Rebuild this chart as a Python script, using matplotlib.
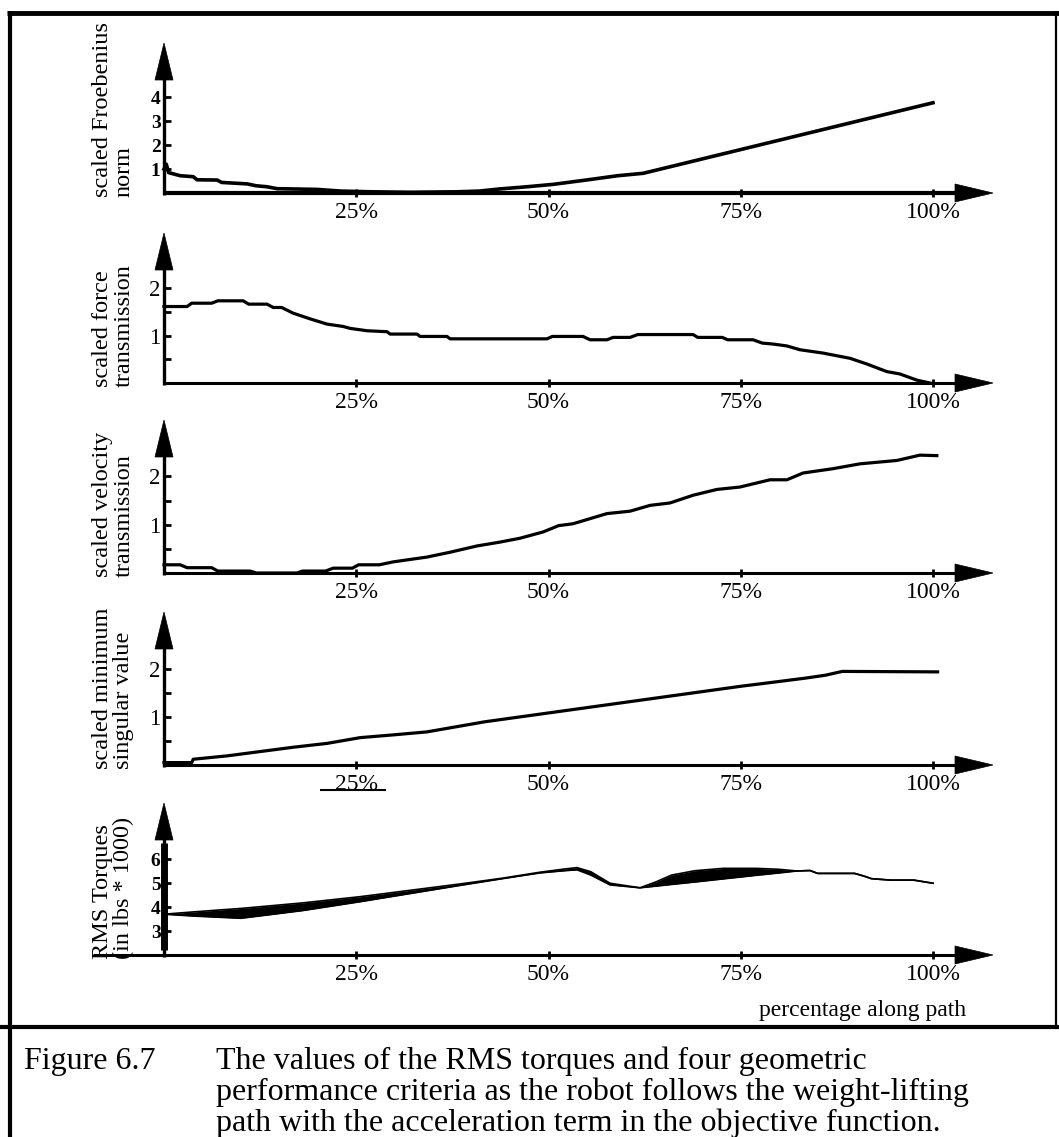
import matplotlib
matplotlib.use("Agg")
import matplotlib.pyplot as plt
from matplotlib.lines import Line2D
from matplotlib.patches import Polygon

plt.rcParams['font.family'] = ['Liberation Serif', 'DejaVu Serif']

# ---------------- data ----------------
x_ticks = [25, 50, 75, 100]
x_tick_labels = ['25%', '50%', '75%', '100%']

froeb_pct = [0, 0.3, 0.6, 2.1, 3.8, 4.3, 6.9, 7.5, 10.8, 12, 13.4, 14.7, 19.9, 23, 27, 32,
             38, 41, 43.7, 47.2, 50.6, 54.9, 59, 62.3, 100]
froeb_val = [1.0, 1.2, 0.85, 0.72, 0.68, 0.55, 0.54, 0.44, 0.38, 0.30, 0.26, 0.18, 0.15, 0.08,
             0.05, 0.03, 0.05, 0.08, 0.17, 0.26, 0.36, 0.54, 0.72, 0.82, 3.76]

force_pct = [0, 3, 3.6, 6.2, 7, 10.3, 11, 13.4, 14.2, 15.3, 16.8, 19, 21.2, 23.3, 24.2, 26.4,
             29, 29.4, 32.9, 33.3, 36.8, 37.2, 49.8, 50.5, 54.5, 55.4, 57.6, 58.4, 60.6, 61.6,
             68.8, 69.4, 72.6, 73.3, 76.6, 77.8, 79.2, 81, 82.7, 85.7, 89.2, 91.4, 94, 95.7,
             97.9, 99.6]
force_val = [1.61, 1.61, 1.68, 1.68, 1.73, 1.73, 1.66, 1.66, 1.59, 1.59, 1.47, 1.35, 1.24,
             1.19, 1.15, 1.10, 1.08, 1.03, 1.03, 0.98, 0.98, 0.93, 0.93, 0.98, 0.98, 0.91,
             0.91, 0.96, 0.96, 1.02, 1.02, 0.96, 0.96, 0.91, 0.91, 0.84, 0.82, 0.78, 0.70,
             0.63, 0.52, 0.40, 0.24, 0.19, 0.06, 0.0]

vel_pct = [0, 2.1, 3, 6.2, 7, 11.2, 12, 17.3, 18, 21, 22, 24.5, 25.3, 28, 29.8, 32, 34.2,
           37.2, 40.7, 43.7, 46.3, 49.3, 51.3, 53.2, 57.6, 60.6, 63.2, 65.8, 68.8, 71.9,
           74.9, 78.8, 81, 83.1, 87, 90.5, 95.3, 98.3, 100.5]
vel_val = [0.17, 0.17, 0.11, 0.11, 0.04, 0.04, 0.0, 0.0, 0.04, 0.04, 0.10, 0.10, 0.17, 0.17,
           0.23, 0.28, 0.33, 0.43, 0.56, 0.64, 0.72, 0.85, 0.98, 1.02, 1.23, 1.28, 1.40,
           1.45, 1.61, 1.73, 1.78, 1.93, 1.93, 2.07, 2.16, 2.26, 2.33, 2.44, 2.43]

sing_pct = [0, 3.6, 3.8, 8.2, 12.5, 16.8, 21.2, 25.5, 30, 34.2, 41.7, 71.4, 75, 79, 83.4,
            86, 88.2, 100.6]
sing_val = [0.05, 0.05, 0.12, 0.19, 0.28, 0.37, 0.45, 0.57, 0.63, 0.69, 0.90, 1.56, 1.64,
            1.72, 1.81, 1.87, 1.95, 1.94]

rms_pct = [0, 4, 10, 18, 25.5, 38.5, 44, 48.9, 52, 53.7, 55.5, 58, 61.9, 64, 66, 69, 72.7,
           77, 80, 82.3, 84, 85, 89.8, 91, 92, 94.5, 97.5, 100]
rms_upper = [3.70, 3.80, 3.94, 4.17, 4.43, 4.96, 5.20, 5.45, 5.58, 5.64, 5.47, 4.99, 4.80,
             5.05, 5.33, 5.51, 5.61, 5.61, 5.57, 5.50, 5.52, 5.40, 5.40, 5.29, 5.18, 5.12,
             5.12, 4.99]
rms_lower = [3.70, 3.62, 3.53, 3.85, 4.22, 4.90, 5.18, 5.42, 5.51, 5.55, 5.33, 4.92, 4.80,
             4.87, 4.94, 5.04, 5.17, 5.32, 5.42, 5.50, 5.52, 5.40, 5.40, 5.29, 5.18, 5.12,
             5.12, 4.99]

ylabels = ["scaled Froebenius\nnorm",
           "scaled force\ntransmission",
           "scaled velocity\ntransmission",
           "scaled minimum\nsingular value",
           "RMS Torques\n(in lbs * 1000)"]
y_ticks = [[1, 2, 3, 4], [0.5, 1, 1.5, 2], [0.5, 1, 1.5, 2], [0.5, 1, 1.5, 2], [3, 4, 5, 6]]
y_tick_labels = [['1', '2', '3', '4'], ['', '1', '', '2'], ['', '1', '', '2'],
                 ['', '1', '', '2'], ['3', '4', '5', '6']]
xlabel_text = "percentage along path"
caption_label = "Figure 6.7"
caption_lines = ["The values of the RMS torques and four geometric",
                 "performance criteria as the robot follows the weight-lifting",
                 "path with the acceleration term in the objective function."]

# ---------------- layout (pixels) ----------------
W, H = 1059, 1137
fig = plt.figure(figsize=(W / 100, H / 100), dpi=100)
fig.patch.set_facecolor('white')


def fx(x):
    return x / W


def fy(y):
    return 1 - y / H


def fline(xs, ys, lw, **kw):
    fig.add_artist(Line2D([fx(v) for v in xs], [fy(v) for v in ys], transform=fig.transFigure,
                          color='black', lw=lw, solid_capstyle='butt', **kw))


def fpoly(pts):
    fig.add_artist(Polygon([(fx(a), fy(b)) for a, b in pts], closed=True,
                           transform=fig.transFigure, facecolor='black',
                           edgecolor='black', lw=0.5))


X0, X100, XR = 164, 933, 1000
PXPCT = (X100 - X0) / 100.0

# axis_y, tip_y, px per unit, ymin, y-tick fontsize, x-axis start px
panels = [
    (193, 43, 24.0, 0.0, 14, X0),
    (383, 233, 47.5, 0.0, 16.5, X0),
    (573, 420, 48.3, 0.0, 16.5, X0),
    (765, 612, 48.0, 0.0, 16.5, X0),
    (955, 803, 24.0, 2.0, 14, 93),
]

series = [
    (froeb_pct, froeb_val),
    (force_pct, force_val),
    (vel_pct, vel_val),
    (sing_pct, sing_val),
    None,
]

for i, (ay, ty, unit, ymin, ytfs, xstart) in enumerate(panels):
    ax = fig.add_axes([fx(X0), fy(ay), (XR - X0) / W, (ay - ty) / H])
    ax.set_xlim(0, (XR - X0) / PXPCT)
    ax.set_ylim(ymin, ymin + (ay - ty) / unit)
    ax.patch.set_visible(False)
    for s in ax.spines.values():
        s.set_visible(False)
    ax.set_xticks(x_ticks, labels=x_tick_labels)
    ax.tick_params(axis='x', direction='inout', length=6, width=2.0, pad=3.5,
                   labelsize=17)
    ax.set_yticks(y_ticks[i], labels=y_tick_labels[i])
    ax.tick_params(axis='y', direction='in', length=5, width=2.0, pad=2.5,
                   labelsize=ytfs)
    if i in (0, 4):
        for lab in ax.get_yticklabels():
            lab.set_fontweight('bold')

    if series[i] is not None:
        px, pv = series[i]
        lw = 2.6 if i == 0 else 2.3
        ax.plot(px, pv, color='black', lw=lw, clip_on=False, solid_joinstyle='round')
    else:
        ax.fill_between(rms_pct, rms_lower, rms_upper, color='black', lw=0)
        ax.plot(rms_pct, rms_upper, color='black', lw=1.2, clip_on=False)
        ax.plot(rms_pct, rms_lower, color='black', lw=1.2, clip_on=False)

    # x axis with arrow
    axis_lw = 3.0 if i == 0 else 2.2
    fline([xstart, 958], [ay, ay], axis_lw)
    fpoly([(955, ay - 9), (993, ay), (955, ay + 9)])
    # y axis with arrow
    fline([X0, X0], [ay + 2, ty + 30], 2.4)
    fpoly([(X0 - 9, ty + 37), (X0, ty), (X0 + 9, ty + 37)])
    if i == 4:
        fline([X0, X0], [ay - 5, ty + 40], 5.0)

    # y label
    fig.text(fx(113), fy(ay + 4), ylabels[i], rotation=90, ha='center', va='bottom',
             multialignment='left', linespacing=1.05, fontsize=17.5)

# underline artefact under the 25% label of the 4th panel
fline([320, 386], [790, 790], 1.5)

# x label
fig.text(fx(966), fy(1016), xlabel_text, ha='right', va='baseline', fontsize=17)

# borders
fline([7, W], [12.5, 12.5], 3.5)
fline([10, 10], [11, H], 3.0)
fline([1056, 1056], [11, 1027], 1.6)
fline([0, W], [1027, 1027], 3.0)

# caption
fig.text(fx(24), fy(1069), caption_label, ha='left', va='baseline', fontsize=23)
for k, line in enumerate(caption_lines):
    fig.text(fx(216), fy(1069 + 31 * k), line, ha='left', va='baseline', fontsize=23)

fig.savefig("out.png", dpi=100, facecolor='white')
